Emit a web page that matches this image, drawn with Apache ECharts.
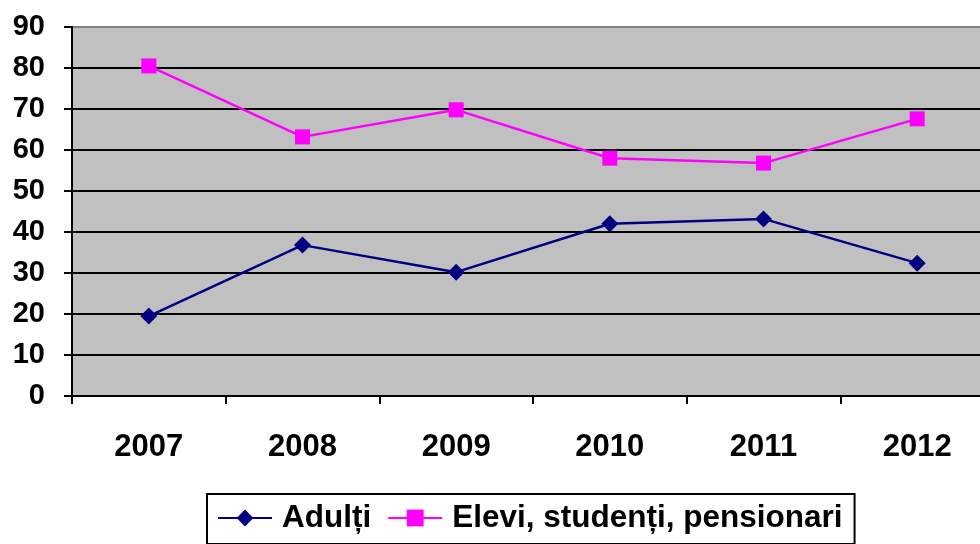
<!DOCTYPE html>
<html><head><meta charset="utf-8">
<script src="https://cdn.jsdelivr.net/npm/echarts@6/dist/echarts.min.js"></script>
<style>html,body{margin:0;padding:0;background:#fff}#c{width:980px;height:544px}</style>
</head><body><div id="c"></div>
<script>
var years = ['2007','2008','2009','2010','2011','2012'];
var adulti = [19.5, 36.8, 30.2, 42.0, 43.2, 32.4];
var elevi = [80.5, 63.2, 69.8, 58.0, 56.8, 67.6];
var yTicks = {min: 0, max: 90, interval: 10};

var chart = echarts.init(document.getElementById('c'));
var font = '"Liberation Sans", Arial, sans-serif';
chart.setOption({
  animation: false,
  backgroundColor: '#fff',
  grid: {left: 72, top: 27, width: 922, height: 369, outerBoundsMode: 'none', containLabel: false,
         show: true, backgroundColor: '#C0C0C0', borderWidth: 0},
  legend: {
    left: 207, top: 494,
    padding: [8, 12, 10, 10],
    borderColor: '#000', borderWidth: 2,
    itemWidth: 54, itemHeight: 21, itemGap: 16,
    textStyle: {fontFamily: font, fontWeight: 'bold', fontSize: 31.5, color: '#000', padding: [0, 0, 0, 5]},
    data: ['Adulți', 'Elevi, studenți, pensionari']
  },
  xAxis: {
    type: 'category', data: years, boundaryGap: true,
    axisLine: {lineStyle: {color: '#000', width: 2}},
    axisTick: {show: true, length: 8, lineStyle: {color: '#000', width: 2}},
    axisLabel: {fontFamily: font, fontWeight: 'bold', fontSize: 31, color: '#000', margin: 36}
  },
  yAxis: {
    type: 'value', min: yTicks.min, max: yTicks.max, interval: yTicks.interval,
    axisLine: {show: true, lineStyle: {color: '#000', width: 2}},
    axisTick: {show: true, length: 8, lineStyle: {color: '#000', width: 2}},
    splitLine: {show: true, lineStyle: {color: ['#000','#000','#000','#000','#000','#000','#000','#000','#000','#808080'], width: 2}},
    axisLabel: {fontFamily: font, fontWeight: 'bold', fontSize: 29, color: '#000', margin: 27}
  },
  series: [
    {name: 'Adulți', type: 'line', data: adulti, symbol: 'diamond', symbolSize: 17,
     itemStyle: {color: '#000080'}, lineStyle: {color: '#000080', width: 2.5}},
    {name: 'Elevi, studenți, pensionari', type: 'line', data: elevi, symbol: 'rect', symbolSize: 15,
     itemStyle: {color: '#FF00FF'}, lineStyle: {color: '#FF00FF', width: 2.5}}
  ]
});
</script></body></html>
